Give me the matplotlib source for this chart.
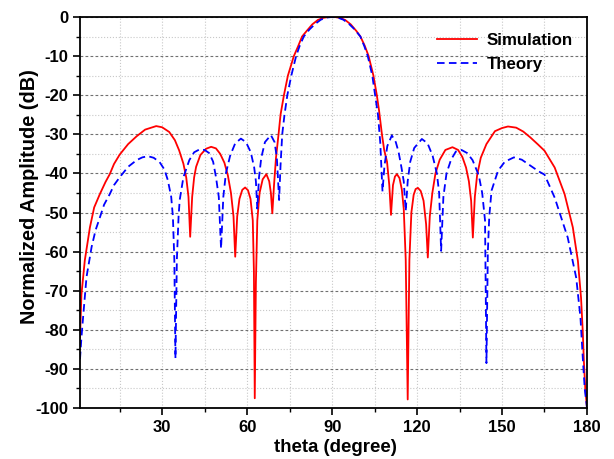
import matplotlib
matplotlib.use('Agg')
import matplotlib.pyplot as plt
from matplotlib.ticker import MultipleLocator

# -----------------------------------------------------------------------------------
# Radiation pattern: simulation vs theory
# -----------------------------------------------------------------------------------

theta_sim = [1, 1.5, 2.7, 4.5, 6, 8, 10, 11.5, 13, 15, 18, 21, 24, 27.9, 30, 32.5, 34.5,
             36, 37.5, 38.5, 39.3, 39.9, 40.6, 41.3, 42, 43.5, 45.5, 47.3, 49, 50.5, 52,
             53.2, 54.3, 55.2, 55.8, 56.5, 57.3, 58.3, 59.3, 60.3, 61.2, 62, 62.4, 62.7,
             63.1, 63.6, 64.4, 65.5, 66.8, 67.8, 68.4, 68.9, 69.5, 70.2, 71.1, 71.8, 73,
             74.4, 76.5, 78, 79.4, 81, 83, 85, 87, 88.5, 89.8, 91.2, 92.6, 94.6, 96.6, 98.6,
             100, 101.5, 102.9, 104.6, 105.8, 106.6, 107.6, 108.4, 109.4, 110.2, 110.8,
             111.5, 112.2, 112.9, 113.8, 114.6, 115.3, 116, 116.7, 117.3, 118, 118.8, 119.5,
             120.3, 121.3, 122.3, 123.2, 123.8, 124.5, 125.4, 126.5, 128, 130, 132.5, 134.5,
             136, 137.3, 138.3, 139.1, 139.7, 140.4, 141.2, 142.5, 144.5, 147.5, 150, 152.1,
             155, 157.5, 160, 162.7, 165, 168.6, 172.1, 175, 176.8, 177.9, 178.5, 178.9,
             179.4, 180]
amp_sim = [-82, -71, -62.2, -53.8, -48.7, -45.3, -42.2, -40.2, -37.6, -35.2, -32.5, -30.5,
           -28.8, -27.9, -28.2, -29.4, -31.5, -34.1, -37.5, -41, -46, -56.2, -46, -41,
           -38.3, -35.3, -33.7, -33.2, -33.6, -35, -37.3, -40.5, -45, -51, -61.3, -51, -46.5,
           -44.2, -43.6, -44.3, -46.5, -52, -65, -97.5, -68, -52, -45, -41.5, -40.2, -42,
           -45, -50.2, -43, -36, -30, -25, -20, -15, -10, -7.5, -5, -3.6, -1.9, -0.75, -0.2,
           -0.03, 0, -0.03, -0.2, -0.75, -1.9, -3.6, -5, -7.3, -10, -15, -20, -24, -30, -34,
           -37, -43, -50.6, -43, -40.8, -40.2, -41.2, -44, -49, -62, -97.8, -62, -50, -45.5,
           -44, -43.7, -44.5, -47, -53, -61.5, -51, -45, -40, -36.5, -34, -33.3, -34, -35.8,
           -38.5, -42, -47, -56.4, -46, -40.5, -36, -32.5, -29.2, -28.4, -28.0, -28.3,
           -29.3, -30.8, -32.6, -34.2, -38.5, -45.3, -53.8, -62.4, -71.8, -80.3, -88, -95,
           -100]

theta_theory = [1, 1.5, 2.1, 3.3, 5.1, 6.5, 8, 9.5, 11.5, 13, 15, 18, 21, 23, 25, 27, 29.1,
                30.8, 32, 33.2, 33.8, 34.3, 34.7, 35.2, 35.8, 36.2, 37.5, 39.6, 41.3, 43.1,
                45, 46.6, 48, 49, 50, 50.8, 51.6, 52.5, 54, 55.8, 57.8, 59.6, 61.3, 62.5,
                63.1, 63.6, 64.2, 65, 66.3, 68.4, 69.7, 70.5, 71.3, 71.8, 72.4, 73.2, 74.2,
                75.6, 77.3, 78.5, 80, 82, 84, 86, 88, 90, 92, 94, 96, 98, 100, 101.4, 102.6,
                104.2, 105.2, 106.2, 107, 107.8, 108.5, 109.5, 111.1, 112.5, 113.5, 114.5,
                115.3, 116, 116.7, 117.6, 119, 121.7, 123.7, 125.5, 127, 127.8, 128.5, 129.3,
                130.4, 132, 133.7, 135.7, 137.7, 139.6, 141.8, 143, 144, 144.5, 145, 145.5,
                146.3, 148.6, 151, 154.2, 157, 160, 163, 165, 168.6, 173.2, 176.2, 177.7,
                178.5, 179.2, 180]
amp_theory = [-87.5, -82, -76.7, -66.5, -58.8, -54.5, -51.3, -48, -45.3, -43, -41, -38.3,
              -36.6, -35.9, -35.6, -36, -37.1, -39, -41.7, -46, -51.1, -62, -87.3, -62, -51,
              -46.8, -41, -36.6, -34.6, -33.9, -34, -34.8, -37, -40.9, -46, -59.2, -46, -40,
              -35.5, -32.3, -31.1, -32, -34.6, -38.5, -42, -49, -41, -36, -32, -30.2, -32, -36,
              -46.8, -38, -30, -25, -20, -15, -10, -7.5, -5, -3.2, -1.8, -0.7, -0.15, 0,
              -0.15, -0.7, -1.8, -3.2, -5, -7.5, -10, -15, -20, -25, -32, -44.6, -38, -33,
              -30.3, -32, -34.6, -38.5, -42, -49.6, -42, -37, -33.5, -31.2, -32.3, -35.5, -40,
              -45, -59.8, -46, -40, -36.5, -34.4, -34, -34.8, -36.6, -40.5, -45, -52, -88.5,
              -60, -51, -44.4, -39.3, -37, -35.9, -36.5, -38, -39.5, -40.3, -46.2, -56.4,
              -66.7, -76.9, -87, -95, -100]

plt.rcParams['font.family'] = ['Liberation Sans', 'DejaVu Sans']
plt.rcParams['font.weight'] = 'bold'
plt.rcParams['axes.unicode_minus'] = False

fig = plt.figure(figsize=(6.14, 4.59), dpi=100)
ax = fig.add_axes([0.1303, 0.111, 0.8257, 0.852])

ax.plot(theta_sim, amp_sim, color='#ff0000', lw=1.3, label='Simulation')
ax.plot(theta_theory, amp_theory, color='#0000ff', lw=1.3, dashes=(4.2, 2.4), label='Theory')

ax.set_xlim(1, 180)
ax.set_ylim(-100, 0)
ax.xaxis.set_major_locator(MultipleLocator(30))
ax.xaxis.set_minor_locator(MultipleLocator(15))
ax.yaxis.set_major_locator(MultipleLocator(10))
ax.yaxis.set_minor_locator(MultipleLocator(5))

# grid: dark dashed for y majors, light dotted elsewhere
ax.yaxis.grid(True, which='major', color='#707070', linestyle=(0, (2.5, 2)), lw=0.8)
ax.yaxis.grid(True, which='minor', color='#c8c8c8', linestyle=':', lw=0.8)
ax.xaxis.grid(True, which='both', color='#c8c8c8', linestyle=':', lw=0.8)
ax.set_axisbelow(True)

ax.tick_params(which='major', direction='out', length=5, width=1.2, labelsize=12)
ax.tick_params(which='minor', direction='out', length=3, width=1.0)
for s in ax.spines.values():
    s.set_linewidth(1.3)

ax.set_xlabel('theta (degree)', fontsize=13.4, fontweight='bold')
ax.set_ylabel('Normalized Amplitude (dB)', fontsize=14.3, fontweight='bold')
ax.xaxis.set_label_coords(0.504, -0.078)
ax.yaxis.set_label_coords(-0.081, 0.54)

ax.legend(loc='upper left', bbox_to_anchor=(0.704, 0.960), frameon=False, fontsize=12.2,
          borderpad=0, borderaxespad=0, handlelength=2.35, handletextpad=0.59,
          labelspacing=0.53)

fig.savefig('out.png', dpi=100)
